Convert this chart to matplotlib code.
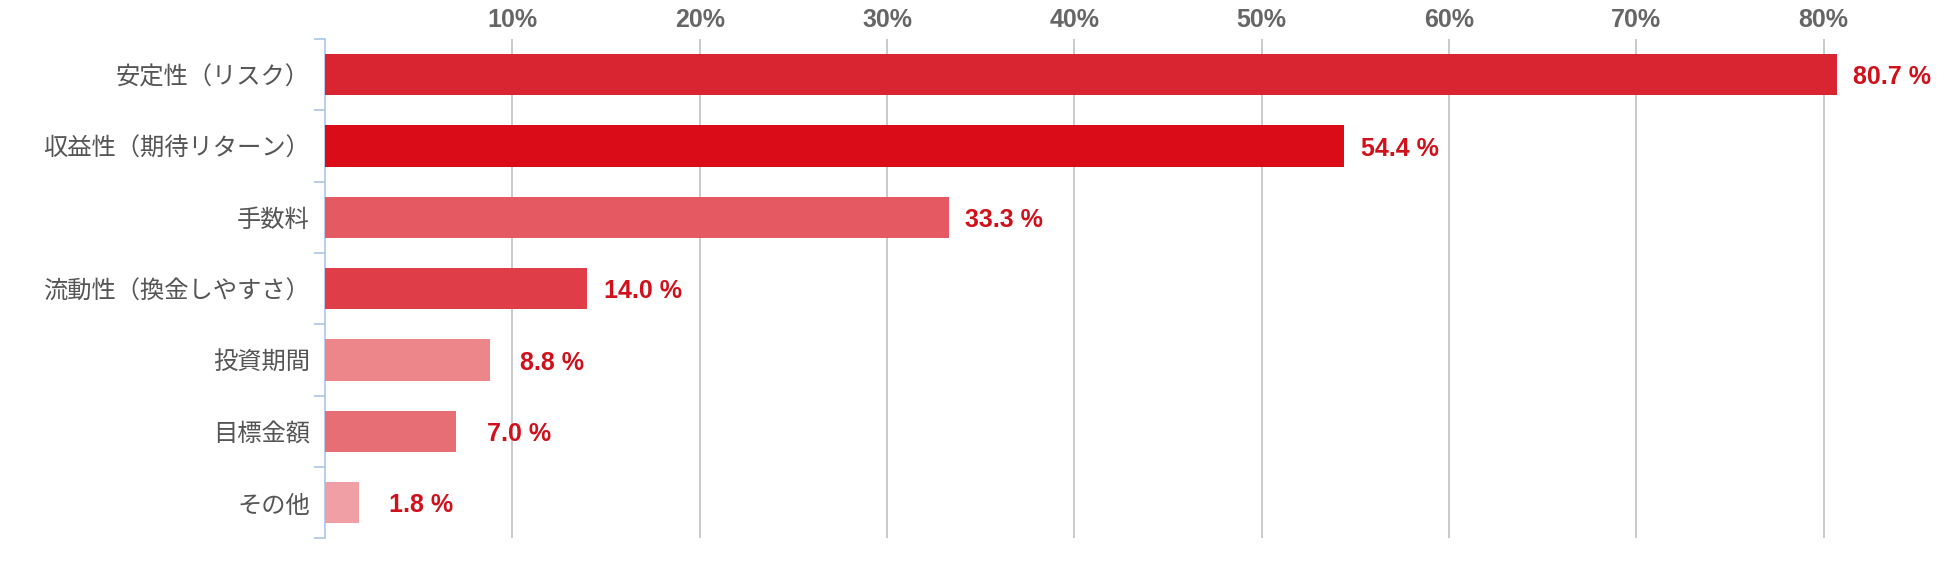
import matplotlib
matplotlib.use("Agg")
import matplotlib.pyplot as plt
from matplotlib.ticker import FixedLocator

categorias = ["安定性（リスク）", "収益性（期待リターン）", "手数料", "流動性（換金しやすさ）",
              "投資期間", "目標金額", "その他"]
porcentajes = [80.7, 54.4, 33.3, 14.0, 8.8, 7.0, 1.8]
colores = ["#d92532", "#d90c18", "#e55a62", "#df3d48", "#ec868b", "#e86e75", "#f0a0a5"]
ticks_x = [10, 20, 30, 40, 50, 60, 70, 80]

fuente_num = ["Liberation Sans", "DejaVu Sans"]

fig = plt.figure(figsize=(19.5, 5.66), dpi=100)
ax = fig.add_axes([0.1667, 0.049, 0.829, 0.882])

y = list(range(len(categorias)))
ax.barh(y, porcentajes, height=0.58, color=colores, zorder=3)

ax.set_xlim(0, 86.3)
ax.set_ylim(len(categorias) - 0.5, -0.5)

# eje x arriba, con porcentajes
ax.xaxis.tick_top()
ax.set_xticks(ticks_x)
ax.set_xticklabels([f"{t}%" for t in ticks_x], fontsize=18, fontweight="bold",
                   color="#666666", family=fuente_num)
ax.tick_params(axis="x", length=0, pad=5)
ax.grid(axis="x", color="#bcbcbc", linewidth=1.1, zorder=0)

# eje y con etiquetas y marcas entre categorias
ax.set_yticks(y)
ax.set_yticklabels(categorias, fontsize=17.5, color="#555555", family=["Noto Sans CJK JP"])
ax.tick_params(axis="y", which="major", length=0, pad=11)
ax.yaxis.set_minor_locator(FixedLocator([i - 0.5 for i in range(len(categorias) + 1)]))
ax.tick_params(axis="y", which="minor", length=8, width=1.2, color="#a9c6e6")

for lado in ["top", "right", "bottom"]:
    ax.spines[lado].set_visible(False)
ax.spines["left"].set_color("#a9c6e6")
ax.spines["left"].set_linewidth(1.2)

# etiquetas de valores
for i, v in enumerate(porcentajes):
    desplazamiento = 12 if v >= 10 else 22
    ax.annotate(f"{v:.1f} %", xy=(v, i), xytext=(desplazamiento, -2), textcoords="offset points",
                va="center", ha="left", fontsize=18, fontweight="bold", color="#d0101b",
                family=fuente_num, zorder=4)

fig.savefig("out.png", dpi=100, facecolor="white")
